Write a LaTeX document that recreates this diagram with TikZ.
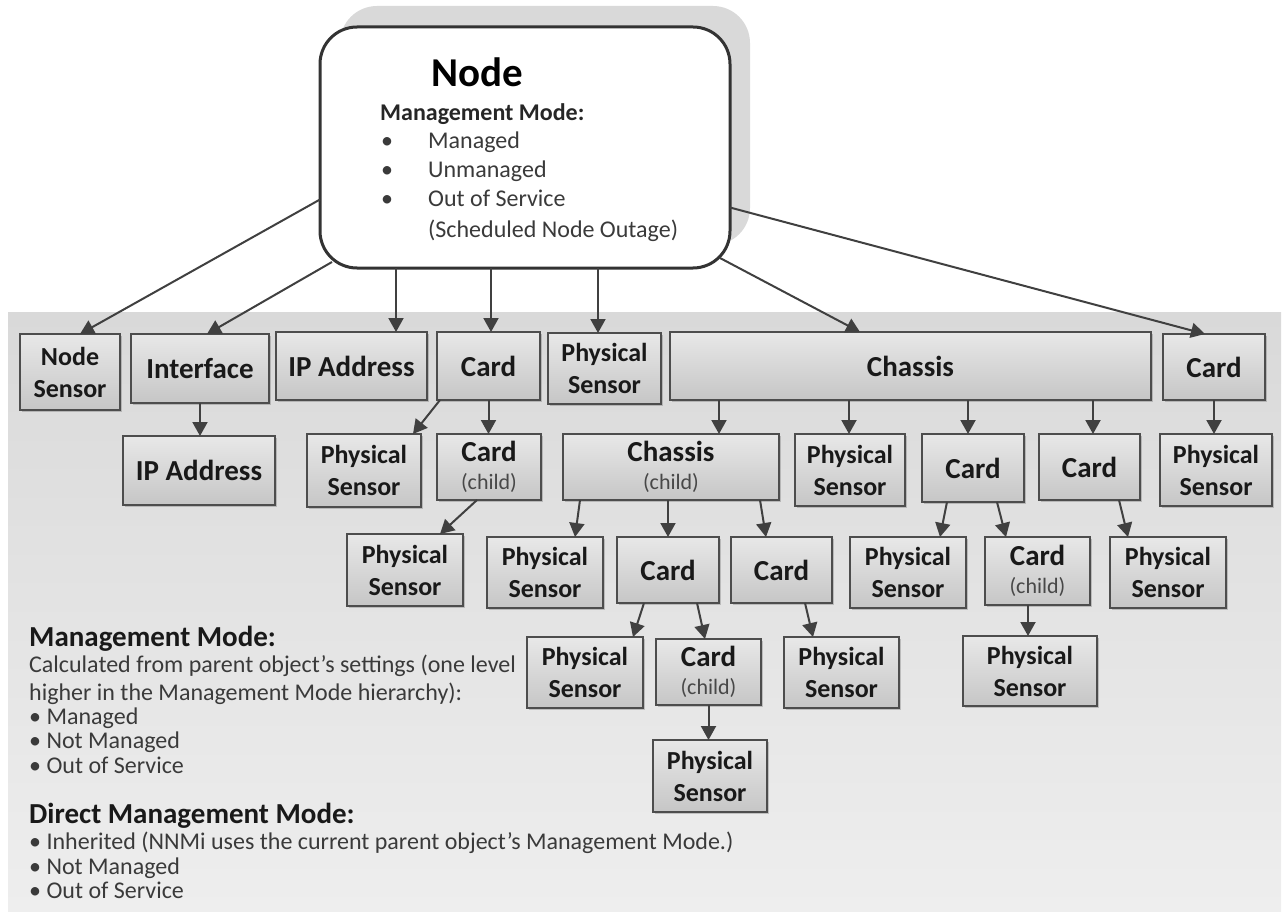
\documentclass[tikz,border=0pt]{standalone}
\usepackage{fontspec}
\setmainfont{Carlito}
\usetikzlibrary{arrows.meta,shadows}
\definecolor{edgecol}{HTML}{4D4D4D}
\definecolor{arrcol}{HTML}{404040}
\definecolor{boxtop}{HTML}{E8E8E8}
\definecolor{boxbot}{HTML}{C6C6C6}
\definecolor{paneltop}{HTML}{D9D9D9}
\definecolor{panelbot}{HTML}{EEEEEE}
\definecolor{nshadow}{HTML}{D9D9D9}
\definecolor{nedge}{HTML}{333333}
\definecolor{txtgray}{HTML}{3A3A3A}
\definecolor{childgray}{HTML}{484848}
\tikzset{
  box/.style={draw=edgecol, line width=1.6pt, top color=boxtop, bottom color=boxbot,
    inner sep=0pt, outer sep=0pt, align=center, text=black!90,
    drop shadow={shadow xshift=2pt, shadow yshift=-2pt, fill=black, opacity=0.18}},
  arr/.style={draw=arrcol, line width=2pt, -{Triangle[length=14pt,width=15pt]}},
  big/.style={font=\fontsize{29}{32}\selectfont\bfseries},
  pslab/.style={font=\fontsize{26}{32}\selectfont\bfseries},
  legh/.style={anchor=base west, inner sep=0pt, font=\fontsize{29}{30}\selectfont\bfseries, text=black!90},
  legt/.style={anchor=base west, inner sep=0pt, font=\fontsize{24}{26}\selectfont, text=txtgray},
  ntxt/.style={anchor=base west, inner sep=0pt, font=\fontsize{24}{28}\selectfont, text=txtgray},
}
\newcommand\bx[7]{\node[box,#6,minimum width={#4-#2},minimum height={#5-#3}] (#1) at ({(#2+#4)/2},{(#3+#5)/2}) {#7};}
\newcommand\childtxt[1]{#1\\[-4pt]{\fontsize{22}{24}\selectfont\mdseries\color{childgray}(child)}}
\begin{document}
\begin{tikzpicture}[x=1pt,y=-1pt]
\useasboundingbox (0,0) rectangle (1283,915);
% background panel
\node[top color=paneltop, bottom color=panelbot, minimum width=1273, minimum height=599, inner sep=0, outer sep=0] (panel) at (644.5,611.5) {};
% Node box with shadow
\node[fill=nshadow, rounded corners=37pt, minimum width=410, minimum height=239, inner sep=0] (Nsh) at (545,125.5) {};
\node[draw=nedge, line width=3pt, fill=white, rounded corners=37pt, minimum width=410, minimum height=241, inner sep=0, outer sep=0] (N) at (525,147.5) {};
\node[anchor=base, inner sep=0pt, font=\fontsize{41}{44}\selectfont\bfseries] (ntitle) at (477,87) {Node};
\node[anchor=base west, inner sep=0pt, font=\fontsize{24}{26}\selectfont\bfseries, text=black!85] (nmm) at (380,121) {Management Mode:};
\node[ntxt] (b1) at (381,149) {•};
\node[ntxt] (t1) at (428,149) {Managed};
\node[ntxt] (b2) at (381,178) {•};
\node[ntxt] (t2) at (428,178) {Unmanaged};
\node[ntxt] (b3) at (381,207) {•};
\node[ntxt] (t3) at (428,207) {Out of Service};
\node[ntxt] (t4) at (428,237) {(Scheduled Node Outage)};
% row 1
\bx{ns}{20}{334}{120}{410}{pslab}{Node\\Sensor}
\bx{intf}{131}{334}{269}{403}{big}{Interface}
\bx{ipa}{276}{332}{427}{400}{big}{IP Address}
\bx{cardA}{437}{332}{540}{400}{big}{Card}
\bx{psA}{548}{333}{661}{404}{pslab}{Physical\\Sensor}
\bx{chassis}{670}{332}{1151}{400}{big}{Chassis}
\bx{cardR}{1163}{334}{1265}{400}{big}{Card}
% row 2
\bx{ipb}{123}{436}{275}{505}{big}{IP Address}
\bx{psB}{307}{434}{421}{507}{pslab}{Physical\\Sensor}
\bx{ccA}{437}{434}{541}{500}{big}{\childtxt{Card}}
\bx{chc}{563}{434}{779}{500}{big}{\childtxt{Chassis}}
\bx{psC}{795}{434}{905}{506}{pslab}{Physical\\Sensor}
\bx{cardE}{922}{434}{1024}{502}{big}{Card}
\bx{cardF}{1039}{434}{1140}{500}{big}{Card}
\bx{psD}{1160}{434}{1272}{506}{pslab}{Physical\\Sensor}
% row 3
\bx{psE}{347}{534}{463}{606}{pslab}{Physical\\Sensor}
\bx{psF}{487}{537}{603}{608}{pslab}{Physical\\Sensor}
\bx{cardC}{617}{537}{719}{603}{big}{Card}
\bx{cardD}{731}{537}{832}{603}{big}{Card}
\bx{psG}{850}{537}{966}{608}{pslab}{Physical\\Sensor}
\bx{ccB}{985}{537}{1090}{605}{big}{\childtxt{Card}}
\bx{psH}{1110}{537}{1226}{608}{pslab}{Physical\\Sensor}
% row 4
\bx{psI}{527}{637}{643}{708}{pslab}{Physical\\Sensor}
\bx{ccC}{656}{639}{761}{705}{big}{\childtxt{Card}}
\bx{psJ}{784}{637}{899}{708}{pslab}{Physical\\Sensor}
\bx{psK}{963}{636}{1097}{706}{pslab}{Physical\\Sensor}
% row 5
\bx{psL}{653}{740}{767}{812}{pslab}{Physical\\Sensor}
% connectors from Node
\draw[arr] ([yshift=-52pt]N.west) -- ([xshift=10pt]ns.north);
\draw[arr] ([xshift=12pt,yshift=6pt]N.south west) -- ([xshift=7pt]intf.north);
\draw[arr] ([xshift=-129pt]N.south) -- ([xshift=44.5pt]ipa.north);
\draw[arr] ([xshift=-34pt]N.south) -- ([xshift=2.5pt]cardA.north);
\draw[arr] ([xshift=73pt]N.south) -- ([xshift=-6.5pt]psA.north);
\draw[arr] ([xshift=-10pt,yshift=10pt]N.south east) -- ([xshift=-50.5pt]chassis.north);
\draw[arr] ([yshift=-60pt]N.east) -- ([xshift=-9pt]cardR.north);
% level 2
\draw[arr] (intf.south) -- (intf.south |- ipb.north);
\draw[arr] ([xshift=3pt]cardA.south west) -- ([xshift=49pt]psB.north);
\draw[arr] (cardA.south) -- (cardA.south |- ccA.north);
\draw[arr] ([xshift=-191.5pt]chassis.south) -- ([xshift=48pt]chc.north);
\draw[arr] ([xshift=-61.5pt]chassis.south) -- ([xshift=-1pt]psC.north);
\draw[arr] ([xshift=57.5pt]chassis.south) -- ([xshift=-5pt]cardE.north);
\draw[arr] ([xshift=182.5pt]chassis.south) -- ([xshift=3.5pt]cardF.north);
\draw[arr] (cardR.south) -- (cardR.south |- psD.north);
% level 3
\draw[arr] ([xshift=-12pt]ccA.south) -- ([xshift=35pt]psE.north);
\draw[arr] ([xshift=-91pt]chc.south) -- ([xshift=30pt]psF.north);
\draw[arr] (cardC.north |- chc.south) -- (cardC.north);
\draw[arr] ([xshift=89pt]chc.south) -- ([xshift=-15.5pt]cardD.north);
\draw[arr] ([xshift=-26pt]cardE.south) -- ([xshift=32pt]psG.north);
\draw[arr] ([xshift=24pt]cardE.south) -- ([xshift=-31.5pt]ccB.north);
\draw[arr] ([xshift=29.5pt]cardF.south) -- ([xshift=-40pt]psH.north);
% level 4
\draw[arr] ([xshift=-24pt]cardC.south) -- ([xshift=48pt]psI.north);
\draw[arr] ([xshift=29pt]cardC.south) -- ([xshift=-3.5pt]ccC.north);
\draw[arr] ([xshift=23.5pt]cardD.south) -- ([xshift=-28.5pt]psJ.north);
\draw[arr] ([xshift=-9.5pt]ccB.south) -- ([xshift=-2pt]psK.north);
% level 5
\draw[arr] (ccC.south) -- (ccC.south |- psL.north);
% legend
\node[legh] (lh1) at (29,646) {Management Mode:};
\node[legt] (l1) at (29,672) {Calculated from parent object’s settings (one level};
\node[legt] (l2) at (29,700) {higher in the Management Mode hierarchy):};
\node[legt] (l3) at (29,724) {• Managed};
\node[legt] (l4) at (29,748) {• Not Managed};
\node[legt] (l5) at (29,773) {• Out of Service};
\node[legh] (lh2) at (29,823) {Direct Management Mode:};
\node[legt] (l6) at (29,849) {• Inherited (NNMi uses the current parent object’s Management Mode.)};
\node[legt] (l7) at (29,874) {• Not Managed};
\node[legt] (l8) at (29,898) {• Out of Service};
\end{tikzpicture}
\end{document}
